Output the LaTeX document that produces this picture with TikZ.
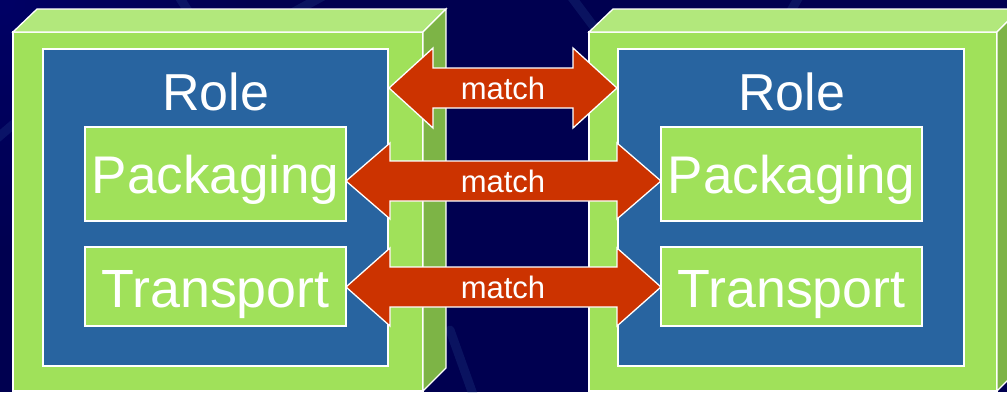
\documentclass[tikz,border=0pt]{standalone}
\usepackage{fontspec}
\setmainfont{Liberation Sans}
\usetikzlibrary{calc}
\definecolor{bg}{HTML}{000050}
\definecolor{bgtl}{HTML}{00006A}
\definecolor{gfront}{HTML}{A0E15A}
\definecolor{gtop}{HTML}{B2E87C}
\definecolor{gside}{HTML}{7DB446}
\definecolor{rblue}{HTML}{2864A0}
\definecolor{mred}{HTML}{CC3300}
\definecolor{streak}{HTML}{3A6AAA}
\begin{document}
\begin{tikzpicture}[x=1pt,y=-1pt,
  outl/.style={draw=white,line width=1.3pt,line join=miter},
  frontface/.style={outl,fill=gfront,inner sep=0pt,outer sep=0pt},
  topface/.style={outl,fill=gtop},
  sideface/.style={outl,fill=gside},
  rolebox/.style={outl,fill=rblue,inner sep=0pt,outer sep=0pt},
  layerbox/.style={outl,fill=gfront,inner sep=0pt,outer sep=0pt},
  rolelbl/.style={text=white,font=\fontsize{52}{52}\selectfont,inner sep=0pt,anchor=base},
  pklbl/.style={text=white,font=\fontsize{53}{54}\selectfont,inner sep=0pt,anchor=base},
  trlbl/.style={text=white,font=\fontsize{53.8}{54}\selectfont,inner sep=0pt,anchor=base},
  matchlbl/.style={text=white,font=\fontsize{31}{31}\selectfont,inner sep=0pt,anchor=base},
  matcharrow/.style={outl,fill=mred},
  swoosh/.style={draw=streak,line width=9pt,opacity=.18,line cap=round}
]
\useasboundingbox (0,0) rectangle (1007,392);
\clip (0,0) rectangle (1007,392);
% background
\fill[bg] (0,0) rectangle (1007,392);
\shade[inner color=bgtl,outer color=bg,opacity=.8] (0,0) circle[radius=260pt];
\draw[swoosh] (178,-5) -- (200,30);
\draw[swoosh] (325,-5) -- (270,25);
\draw[swoosh] (570,-5) -- (600,35);
\draw[swoosh] (800,-5) -- (780,30);
\draw[swoosh] (-5,140) -- (30,110);
\draw[swoosh] (450,330) -- (475,400);

% ---------- left box ----------
\node[frontface,minimum width=410pt,minimum height=359pt] (front1) at (218,211.5) {};
\draw[topface] (front1.north west) -- ++(24,-23) -- ($(front1.north east)+(23pt,23pt)$) -- (front1.north east) -- cycle;
\draw[sideface] (front1.north east) -- ++(23,-23) -- ++(0,359) -- (front1.south east) -- cycle;
\node[rolebox,minimum width=345pt,minimum height=317pt] (blue1) at (215.5,207.5) {};
\node[layerbox,minimum width=261pt,minimum height=94pt] (pk1) at (215.5,174) {};
\node[layerbox,minimum width=261pt,minimum height=79pt] (tr1) at (215.5,286.5) {};
\node[rolelbl] (role1) at (215.5,110) {Role};
\node[pklbl] (pkt1) at (215.5,193) {Packaging};
\node[trlbl] (trt1) at (215.5,307) {Transport};

% ---------- right box ----------
\node[frontface,minimum width=408pt,minimum height=359pt] (front2) at (793,211.5) {};
\draw[topface] (front2.north west) -- ++(24,-23) -- ($(front2.north east)+(23pt,23pt)$) -- (front2.north east) -- cycle;
\draw[sideface] (front2.north east) -- ++(23,-23) -- ++(0,359) -- (front2.south east) -- cycle;
\node[rolebox,minimum width=346pt,minimum height=317pt] (blue2) at (791,207.5) {};
\node[layerbox,minimum width=261pt,minimum height=94pt] (pk2) at (791.5,174) {};
\node[layerbox,minimum width=261pt,minimum height=79pt] (tr2) at (791.5,286.5) {};
\node[rolelbl] (role2) at (791.5,110) {Role};
\node[pklbl] (pkt2) at (791.5,193) {Packaging};
\node[trlbl] (trt2) at (791.5,307) {Transport};

% ---------- match arrows ----------
\coordinate (c1) at (503,88);
\coordinate (c2) at (503,181);
\coordinate (c3) at (503,287);
\draw[matcharrow] let \p1=(blue1.east |- c1), \p2=(blue2.west |- c1) in
  (\x1+1pt,\y1) -- (\x1+45pt,\y1+40pt) -- (\x1+45pt,\y1+20pt) -- (\x2-45pt,\y1+20pt) -- (\x2-45pt,\y1+40pt)
  -- (\x2-1pt,\y2) -- (\x2-45pt,\y1-40pt) -- (\x2-45pt,\y1-20pt) -- (\x1+45pt,\y1-20pt) -- (\x1+45pt,\y1-40pt) -- cycle;
\draw[matcharrow] let \p1=(pk1.east |- c2), \p2=(pk2.west |- c2) in
  (\x1,\y1) -- (\x1+44pt,\y1+38pt) -- (\x1+44pt,\y1+20pt) -- (\x2-44pt,\y1+20pt) -- (\x2-44pt,\y1+38pt)
  -- (\x2,\y2) -- (\x2-44pt,\y1-38pt) -- (\x2-44pt,\y1-20pt) -- (\x1+44pt,\y1-20pt) -- (\x1+44pt,\y1-38pt) -- cycle;
\draw[matcharrow] let \p1=(tr1.east |- c3), \p2=(tr2.west |- c3) in
  (\x1,\y1) -- (\x1+44pt,\y1+39pt) -- (\x1+44pt,\y1+20pt) -- (\x2-44pt,\y1+20pt) -- (\x2-44pt,\y1+39pt)
  -- (\x2,\y2) -- (\x2-44pt,\y1-39pt) -- (\x2-44pt,\y1-20pt) -- (\x1+44pt,\y1-20pt) -- (\x1+44pt,\y1-39pt) -- cycle;
\node[matchlbl] (m1) at (503,99) {match};
\node[matchlbl] (m2) at (503,192) {match};
\node[matchlbl] (m3) at (503,298) {match};
\end{tikzpicture}
\end{document}
